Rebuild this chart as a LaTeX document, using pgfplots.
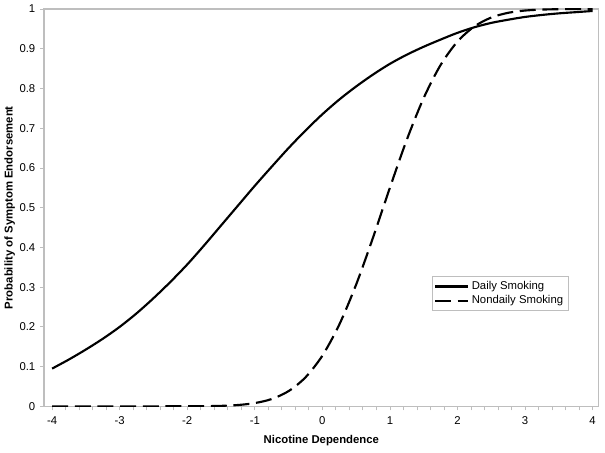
\documentclass[border=0pt]{standalone}
\usepackage{fontspec}
\setmainfont{Liberation Sans}
\usepackage{pgfplots}
\pgfplotsset{compat=1.18}
\definecolor{framegray}{RGB}{190,190,190}

\pgfplotstableread{
x y
-4 0.095
-3.75 0.118
-3.5 0.143
-3.25 0.170
-3 0.200
-2.75 0.234
-2.5 0.272
-2.25 0.313
-2 0.357
-1.75 0.405
-1.5 0.455
-1.25 0.505
-1 0.555
-0.75 0.603
-0.5 0.650
-0.25 0.694
0 0.735
0.25 0.772
0.5 0.805
0.75 0.835
1 0.862
1.25 0.885
1.5 0.905
1.75 0.923
2 0.940
2.25 0.954
2.5 0.965
2.75 0.973
3 0.980
3.25 0.985
3.5 0.989
3.75 0.992
4 0.995
}\daily

\pgfplotstableread{
x y
-4 0.0000
-3 0.0000
-2 0.0001
-1.75 0.0004
-1.5 0.0012
-1.25 0.0033
-1 0.0082
-0.75 0.0184
-0.5 0.0383
-0.25 0.0729
0 0.1275
0.25 0.2055
0.5 0.3064
0.75 0.4247
1 0.5503
1.25 0.6710
1.5 0.7760
1.75 0.8590
2 0.9180
2.25 0.9560
2.5 0.9785
2.75 0.9904
3 0.9961
3.25 0.9985
3.5 0.9995
3.75 0.9998
4 1.0000
}\nondaily

\begin{document}
\begin{tikzpicture}
\begin{axis}[
  scale only axis,
  width=416pt, height=298pt,
  xmin=-4.12, xmax=4.09,
  ymin=0, ymax=1,
  xtick={-4,-3,-2,-1,0,1,2,3,4},
  minor x tick num=4,
  ytick={0,0.1,0.2,0.3,0.4,0.5,0.6,0.7,0.8,0.9,1},
  yticklabels={0,0.1,0.2,0.3,0.4,0.5,0.6,0.7,0.8,0.9,1},
  xtick pos=bottom, ytick pos=left,
  tick align=outside,
  major tick length=3pt, minor tick length=3pt,
  tick style={framegray, line width=0.6pt},
  axis line style={framegray, line width=0.8pt},
  /pgf/number format/assume math mode=true,
  tick label style={font=\fontsize{8.5}{10}\selectfont},
  xticklabel style={yshift=-1pt},
  xlabel={Nicotine Dependence},
  ylabel={Probability of Symptom Endorsement},
  label style={font=\fontsize{8.5}{10}\selectfont\bfseries},
  xlabel style={at={(axis description cs:0.5,-0.086)}, anchor=center},
  ylabel style={at={(axis description cs:-0.062,0.5)}, anchor=center},
  legend image code/.code={\draw[#1] (0pt,0pt) -- (24.75pt,0pt);},
  legend style={at={(axis description cs:0.699,0.327)}, anchor=north west,
    draw=framegray, font=\fontsize{8.5}{10}\selectfont,
    inner sep=1.5pt, row sep=-1pt, cells={anchor=west}},
  legend cell align=left,
]
\addplot[black, line width=1.6pt, smooth] table {\daily};
\addplot[black, line width=1.6pt, smooth, dash pattern=on 12pt off 5pt] table {\nondaily};
\legend{Daily Smoking, Nondaily Smoking}
\end{axis}
\pgfresetboundingbox
\path (-33pt,-34.5pt) rectangle (420.75pt,304.75pt);
\end{tikzpicture}
\end{document}
